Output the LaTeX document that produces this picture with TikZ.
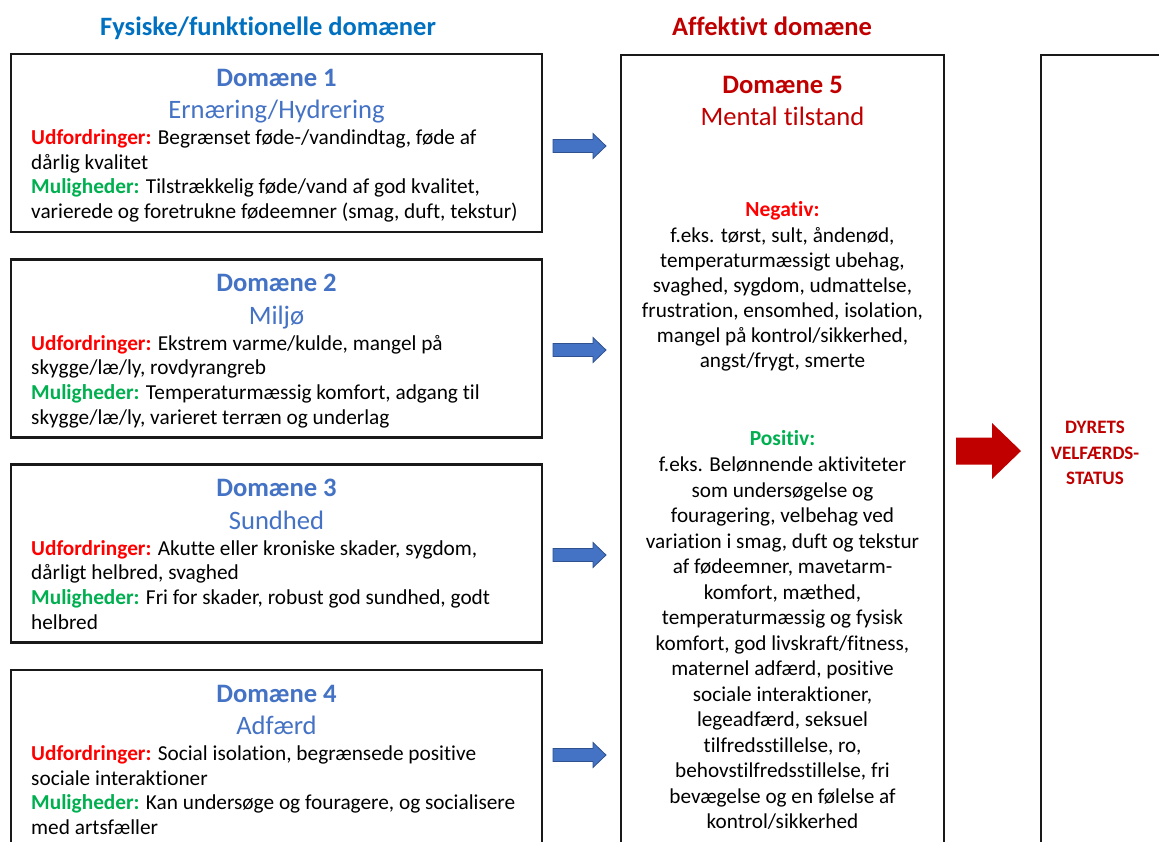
\documentclass[tikz,border=0pt]{standalone}
\usepackage{fontspec}
\setmainfont{Carlito}[Ligatures=NoCommon]
\definecolor{dblue}{HTML}{4472C4}
\definecolor{dblueline}{HTML}{2F528F}
\definecolor{hblue}{HTML}{0070C0}
\definecolor{dred}{HTML}{C00000}
\definecolor{bred}{HTML}{FF0000}
\definecolor{bgreen}{HTML}{00B050}
\newcommand\Udf{\textcolor{bred}{\bfseries Udfordringer:}}
\newcommand\Mul{\textcolor{bgreen}{\bfseries Muligheder:}}
\newcommand\dombox[7]{%
  \node[frame, minimum width=531pt, minimum height=178pt] (box#2) at (276.5,{143+#1}) {};
  \node[dtitle] (title#2) at (276.5,{86+#1}) {Domæne #2};
  \node[dsub] (sub#2) at (276.5,{118.5+#1}) {#3};
  \node[bodyline] (l#2a) at (31,{144.5+#1}) {#4};
  \node[bodyline] (l#2b) at (31,{169+#1}) {#5};
  \node[bodyline] (l#2c) at (31,{193.5+#1}) {#6};
  \node[bodyline] (l#2d) at (31,{218.5+#1}) {#7};
}
\newcommand\bluearrow[2]{%
  \coordinate (a#1) at (553,#2);
  \path[barrow] (a#1) +(0,-6.5) -- +(40,-6.5) -- +(40,-12.5) -- +(53,0) -- +(40,12.5) -- +(40,6.5) -- +(0,6.5) -- cycle;
}
\begin{document}
\begin{tikzpicture}[x=1pt,y=-1pt,
  frame/.style={draw=black!90, line width=2.6pt, inner sep=0},
  bodyline/.style={anchor=base west, inner sep=0, font=\fontsize{21.3}{25}\selectfont},
  cline/.style={anchor=base, inner sep=0, font=\fontsize{21.2}{25}\selectfont},
  dtitle/.style={anchor=base, inner sep=0, text=dblue, font=\fontsize{26.6}{30}\selectfont\bfseries},
  dsub/.style={anchor=base, inner sep=0, text=dblue, font=\fontsize{26.6}{30}\selectfont},
  header/.style={anchor=base, inner sep=0, font=\fontsize{26.5}{30}\selectfont\bfseries},
  barrow/.style={fill=dblue, draw=dblueline, line width=0.8pt},
  rarrow/.style={fill=dred, draw=none},
  status/.style={anchor=base, inner sep=0, text=dred, font=\fontsize{19}{23}\selectfont\bfseries}
]
\useasboundingbox (0,0) rectangle (1159,841);
\fill[white] (0,0) rectangle (1159,841);
\clip (0,0) rectangle (1159,841);

\node[header, text=hblue] (hphys) at (268,35) {Fysiske/funktionelle domæner};
\node[header, text=dred] (haff) at (772,35) {Affektivt domæne};

\dombox{0}{1}{Ernæring/Hydrering}
  {\Udf{} Begrænset føde-/vandindtag, føde af}
  {dårlig kvalitet}
  {\Mul{} Tilstrækkelig føde/vand af god kvalitet,}
  {varierede og foretrukne fødeemner (smag, duft, tekstur)}
\dombox{205.5}{2}{Miljø}
  {\Udf{} Ekstrem varme/kulde, mangel på}
  {skygge/læ/ly, rovdyrangreb}
  {\Mul{} Temperaturmæssig komfort, adgang til}
  {skygge/læ/ly, varieret terræn og underlag}
\dombox{410.5}{3}{Sundhed}
  {\Udf{} Akutte eller kroniske skader, sygdom,}
  {dårligt helbred, svaghed}
  {\Mul{} Fri for skader, robust god sundhed, godt}
  {helbred}
\dombox{616}{4}{Adfærd}
  {\Udf{} Social isolation, begrænsede positive}
  {sociale interaktioner}
  {\Mul{} Kan undersøge og fouragere, og socialisere}
  {med artsfæller}

\bluearrow{1}{146}
\bluearrow{2}{350}
\bluearrow{3}{555}
\bluearrow{4}{755}

% affective domain
\node[frame, minimum width=323pt, minimum height=820pt] (aff) at (782.5,465) {};
\node[anchor=base, inner sep=0, text=dred, font=\fontsize{26.6}{30}\selectfont\bfseries] (t5) at (782.5,93) {Domæne 5};
\node[anchor=base, inner sep=0, text=dred, font=\fontsize{26.6}{30}\selectfont] (s5) at (782.5,125) {Mental tilstand};
\node[cline, text=bred, font=\fontsize{21.5}{25}\selectfont\bfseries] (neg) at (782.5,216) {Negativ:};
\foreach \t [count=\i] in {
  {f.eks. tørst, sult, åndenød,},
  {temperaturmæssigt ubehag,},
  {svaghed, sygdom, udmattelse,},
  {frustration, ensomhed, isolation,},
  {mangel på kontrol/sikkerhed,},
  {angst/frygt, smerte}}
  \node[cline] (n\i) at (782.5,{242.5+24.9*(\i-1)}) {\t};
\node[cline, text=bgreen, font=\fontsize{21.5}{25}\selectfont\bfseries] (pos) at (782.5,445) {Positiv:};
\foreach \t [count=\i] in {
  {f.eks. Belønnende aktiviteter},
  {som undersøgelse og},
  {fouragering, velbehag ved},
  {variation i smag, duft og tekstur},
  {af fødeemner, mavetarm-},
  {komfort, mæthed,},
  {temperaturmæssig og fysisk},
  {komfort, god livskraft/fitness,},
  {maternel adfærd, positive},
  {sociale interaktioner,},
  {legeadfærd, seksuel},
  {tilfredsstillelse, ro,},
  {behovstilfredsstillelse, fri},
  {bevægelse og en følelse af},
  {kontrol/sikkerhed}}
  \node[cline] (p\i) at (782.5,{471.5+25.5*(\i-1)}) {\t};

% red arrow
\coordinate (ra) at (956,451);
\path[rarrow] (ra) +(0,-13.5) -- +(36,-13.5) -- +(36,-28) -- +(65,0) -- +(36,28) -- +(36,13.5) -- +(0,13.5) -- cycle;

% welfare status
\node[frame, minimum width=179pt, minimum height=820pt] (stat) at (1130.5,465) {};
\node[status] (st1) at (1095,433) {DYRETS};
\node[status] (st2) at (1095,459) {VELFÆRDS-};
\node[status] (st3) at (1095,484) {STATUS};
\end{tikzpicture}
\end{document}
